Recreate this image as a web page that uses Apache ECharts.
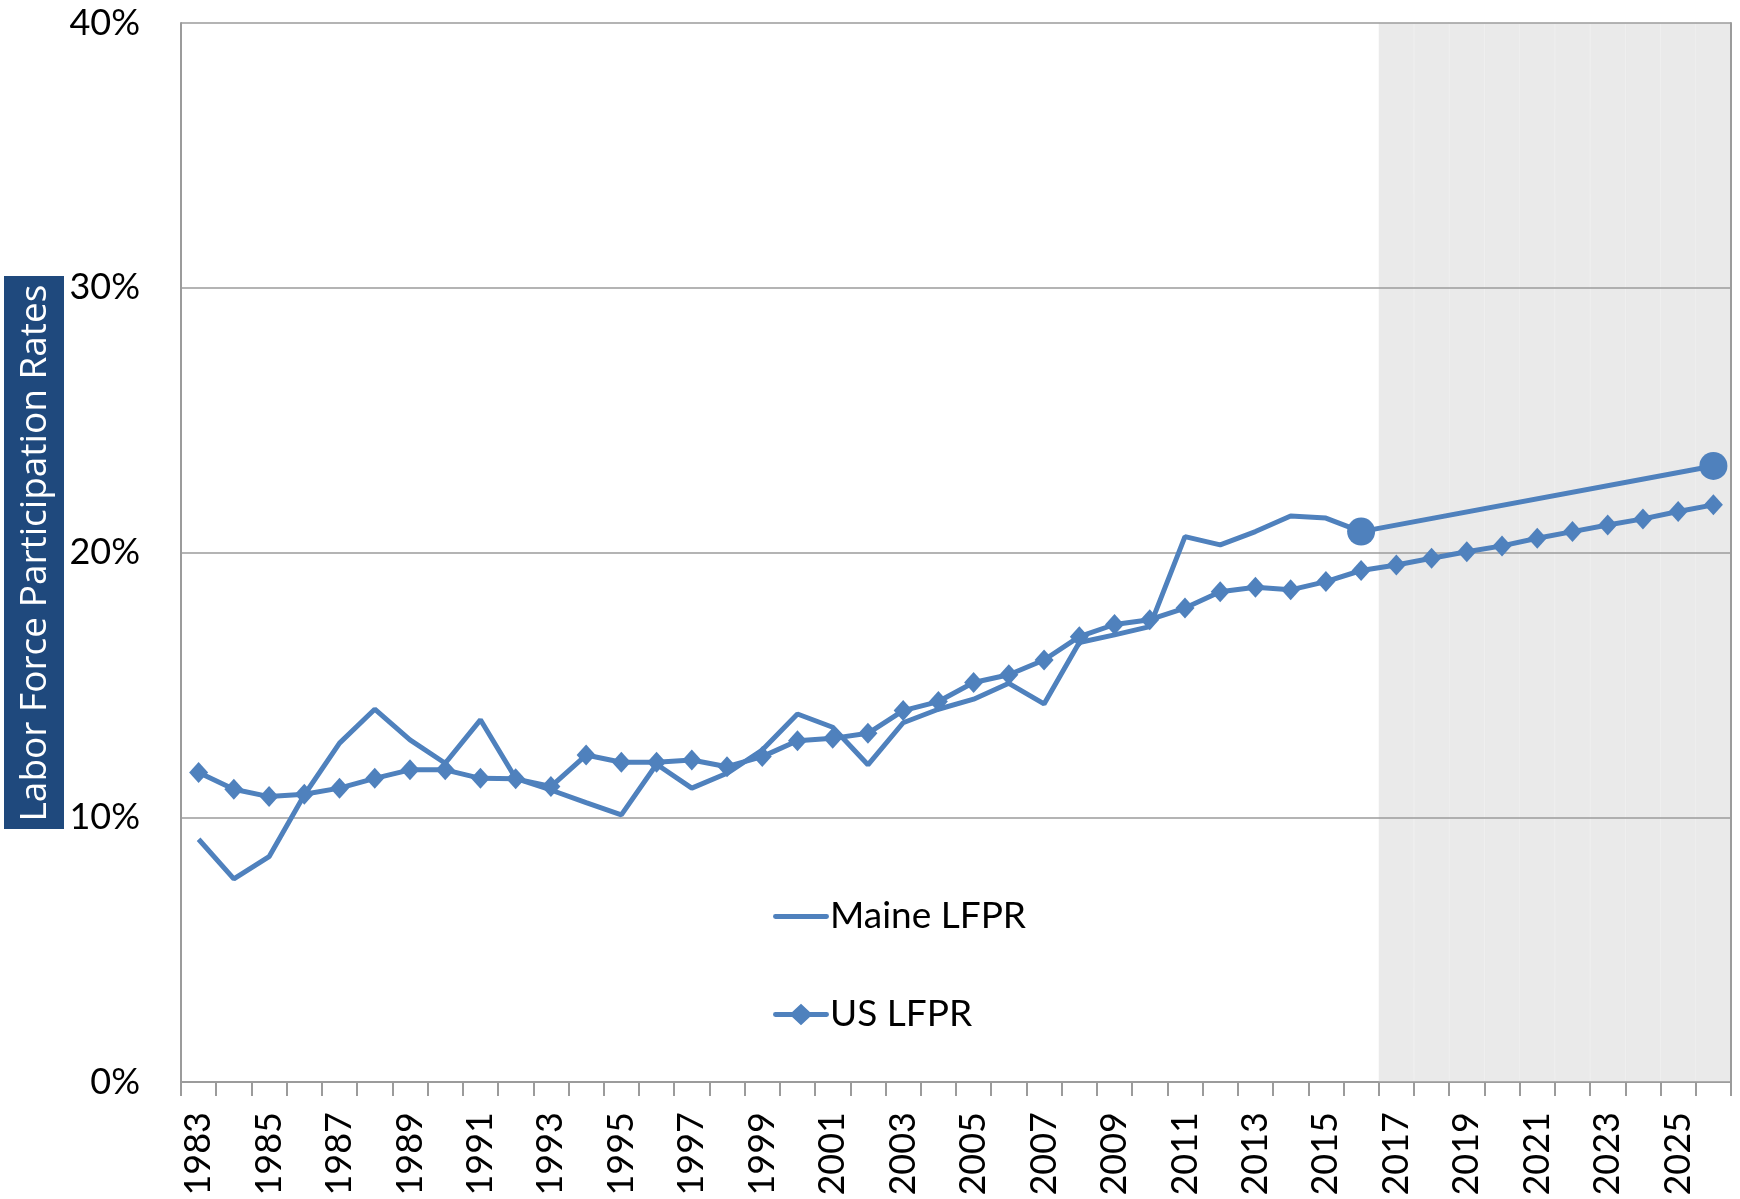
<!DOCTYPE html>
<html>
<head>
<meta charset="utf-8">
<script src="https://cdn.jsdelivr.net/npm/echarts@6.0.0/dist/echarts.min.js"></script>
<style>
html,body{margin:0;padding:0;background:#fff;}
#chart{width:1740px;height:1199px;}
</style>
</head>
<body>
<div id="chart"></div>
<script>
var years = ['1983','1984','1985','1986','1987','1988','1989','1990','1991','1992','1993','1994','1995','1996','1997','1998','1999','2000','2001','2002','2003','2004','2005','2006','2007','2008','2009','2010','2011','2012','2013','2014','2015','2016','2017','2018','2019','2020','2021','2022','2023','2024','2025','2026'];

var maineLFPR = [9.17,7.67,8.51,10.84,12.80,14.08,12.92,12.04,13.68,11.47,11.03,10.55,10.09,12.0,11.1,11.66,12.54,13.9,13.4,11.98,13.57,14.08,14.46,15.06,14.28,16.6,16.89,17.2,20.6,20.29,20.79,21.38,21.3,20.79,null,null,null,null,null,null,null,null,null,23.27];

var usLFPR = [11.69,11.06,10.78,10.87,11.10,11.47,11.79,11.79,11.47,11.45,11.16,12.35,12.08,12.08,12.16,11.91,12.29,12.89,12.98,13.17,14.03,14.37,15.09,15.38,15.94,16.82,17.28,17.46,17.90,18.52,18.69,18.59,18.90,19.32,19.53,19.78,20.03,20.25,20.54,20.79,21.04,21.27,21.55,21.80];

// projection period shading (2017-2026) up to the axis maximum
var projectionShade = [null,null,null,null,null,null,null,null,null,null,null,null,null,null,null,null,null,null,null,null,null,null,null,null,null,null,null,null,null,null,null,null,null,null,40,40,40,40,40,40,40,40,40,40];

var yTicks = [0,10,20,30,40];
var highlightYears = ['2016','2026'];

var BLUE = '#4F81BD';

var maineData = maineLFPR.map(function(v, i){
  if (highlightYears.indexOf(years[i]) >= 0) {
    return {value: v, symbol: 'circle', symbolSize: 28};
  }
  return v;
});

var chart = echarts.init(document.getElementById('chart'));
chart.setOption({
  animation: false,
  backgroundColor: '#ffffff',
  grid: {left: 181, right: 9, top: 23, bottom: 117, containLabel: false},
  xAxis: {
    type: 'category',
    data: years,
    boundaryGap: true,
    axisLine: {show: true, lineStyle: {color: '#9B9B9B', width: 2}},
    axisTick: {show: true, interval: 0, length: 14, lineStyle: {color: '#9B9B9B', width: 2}},
    axisLabel: {
      interval: 1, rotate: 90, margin: 30,
      fontFamily: 'Lato', fontSize: 36, color: '#000'
    },
    splitLine: {show: false}
  },
  yAxis: [{
    type: 'value',
    min: yTicks[0], max: yTicks[yTicks.length-1], interval: 10,
    z: 1,
    axisLine: {show: true, lineStyle: {color: '#9B9B9B', width: 2}},
    axisTick: {show: false},
    axisLabel: {formatter: '{value}%', margin: 41, fontFamily: 'Lato', fontSize: 36, color: '#000'},
    splitLine: {show: true, lineStyle: {color: '#9B9B9B', width: 1.5}}
  }, {
    type: 'value', position: 'right',
    min: yTicks[0], max: yTicks[yTicks.length-1], interval: 10,
    z: 1,
    axisLine: {show: true, lineStyle: {color: '#9B9B9B', width: 2}},
    axisTick: {show: false},
    axisLabel: {show: false},
    splitLine: {show: false}
  }],
  legend: [{
    data: [{name: 'Maine LFPR', icon: 'path://M2,0 L54,0 A2.5,2.5 0 0 1 54,5 L2,5 A2.5,2.5 0 0 1 2,0 Z'}],
    left: 768, top: 893,
    itemWidth: 56, itemHeight: 5, itemGap: 0,
    textStyle: {fontFamily: 'Lato', fontSize: 37, color: '#000', padding: [0,0,0,-4]}
  }, {
    data: [{name: 'US LFPR', icon: 'path://M2,8.5 L19,8.5 L28,0 L37,8.5 L54,8.5 A2.5,2.5 0 0 1 54,13.5 L37,13.5 L28,22 L19,13.5 L2,13.5 A2.5,2.5 0 0 1 2,8.5 Z'}],
    left: 768, top: 991,
    itemWidth: 56, itemHeight: 22, itemGap: 0,
    textStyle: {fontFamily: 'Lato', fontSize: 37, color: '#000', padding: [0,0,0,-4]}
  }],
  graphic: [{
    type: 'rect',
    shape: {x: 4, y: 276, width: 60, height: 553},
    style: {fill: '#1F497D'}
  }, {
    type: 'text',
    x: 35, y: 553,
    rotation: Math.PI / 2,
    style: {
      text: 'Labor Force Participation Rates',
      fill: '#ffffff',
      fontFamily: 'Open Sans', fontSize: 37,
      align: 'center', verticalAlign: 'middle'
    }
  }],
  series: [{
    name: 'Projection',
    type: 'bar',
    data: projectionShade,
    barCategoryGap: '0%',
    barGap: '0%',
    z: 0,
    silent: true,
    itemStyle: {color: '#EAEAEA', borderColor: '#EAEAEA', borderWidth: 0.5}
  }, {
    name: 'Maine LFPR',
    type: 'line',
    data: maineData,
    connectNulls: true,
    symbol: 'none',
    z: 3,
    lineStyle: {color: BLUE, width: 5},
    itemStyle: {color: BLUE}
  }, {
    name: 'US LFPR',
    type: 'line',
    data: usLFPR,
    symbol: 'diamond',
    symbolSize: [19, 21],
    z: 4,
    lineStyle: {color: BLUE, width: 5},
    itemStyle: {color: BLUE}
  }]
});
</script>
</body>
</html>
